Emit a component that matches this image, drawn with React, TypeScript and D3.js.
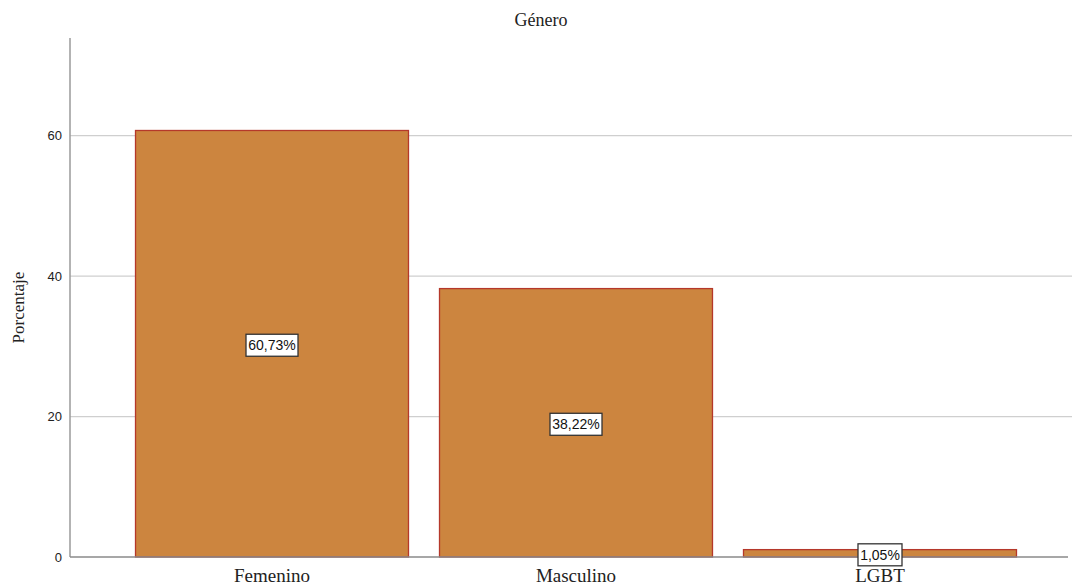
import React from "react";
import * as d3 from "d3";

const categories = ["Femenino", "Masculino", "LGBT"];
const percentages = [60.73, 38.22, 1.05];
const valueLabels = ["60,73%", "38,22%", "1,05%"];
const yTicks = [0, 20, 40, 60];

const W = 1072;
const H = 585;
const left = 70;
const top = 38;
const bottom = 557;
const right = 1082;

export default function App() {
  const y = d3.scaleLinear().domain([0, 73.9]).range([bottom, top]);
  const x = d3
    .scaleBand<string>()
    .domain(categories)
    .range([left, right])
    .paddingInner(0.102)
    .paddingOuter(0.2155);

  const serif = "'Liberation Serif', 'Times New Roman', serif";
  const sans = "'Liberation Sans', Arial, sans-serif";

  return (
    <svg
      width={W}
      height={H}
      style={{ position: "absolute", left: 0, top: 0, background: "#fff" }}
    >
      <text x={541} y={26} textAnchor="middle" fontFamily={serif} fontSize={18} fill="#222">
        Género
      </text>

      {/* gridlines */}
      {yTicks.filter((t) => t > 0).map((t) => (
        <line key={t} x1={left} x2={W} y1={y(t)} y2={y(t)} stroke="#cfcfcf" strokeWidth={1.2} />
      ))}

      {/* y axis */}
      <line x1={left} x2={left} y1={top} y2={bottom} stroke="#9a9a9a" strokeWidth={1.5} />
      {yTicks.map((t) => (
        <text
          key={t}
          x={62}
          y={y(t)}
          dy="0.35em"
          textAnchor="end"
          fontFamily={sans}
          fontSize={13}
          fill="#222"
        >
          {t}
        </text>
      ))}
      <text
        transform={`translate(24, ${(top + bottom) / 2 + 10}) rotate(-90)`}
        textAnchor="middle"
        fontFamily={serif}
        fontSize={17}
        fill="#222"
      >
        Porcentaje
      </text>

      {/* bars */}
      {categories.map((c, i) => (
        <rect
          key={c}
          x={x(c)}
          y={y(percentages[i])}
          width={x.bandwidth()}
          height={bottom - y(percentages[i])}
          fill="#cc853f"
          stroke="#b5382a"
          strokeWidth={1.3}
        />
      ))}

      {/* baseline */}
      <line x1={left} x2={1068} y1={bottom} y2={bottom} stroke="#8a8a8a" strokeWidth={1.5} />

      {/* value labels */}
      {categories.map((c, i) => {
        const cx = (x(c) as number) + x.bandwidth() / 2;
        const cy = (y(percentages[i]) + bottom) / 2 + 1.5;
        const label = valueLabels[i];
        const w = label.length * 8 + 4;
        return (
          <g key={c}>
            <rect
              x={cx - w / 2}
              y={cy - 11}
              width={w}
              height={22}
              fill="#fff"
              stroke="#333"
              strokeWidth={1.3}
            />
            <text
              x={cx}
              y={cy}
              dy="0.36em"
              textAnchor="middle"
              fontFamily={sans}
              fontSize={14}
              fill="#111"
            >
              {label}
            </text>
          </g>
        );
      })}

      {/* category labels */}
      {categories.map((c) => (
        <text
          key={c}
          x={(x(c) as number) + x.bandwidth() / 2}
          y={582}
          textAnchor="middle"
          fontFamily={serif}
          fontSize={19}
          fill="#222"
        >
          {c}
        </text>
      ))}
    </svg>
  );
}
